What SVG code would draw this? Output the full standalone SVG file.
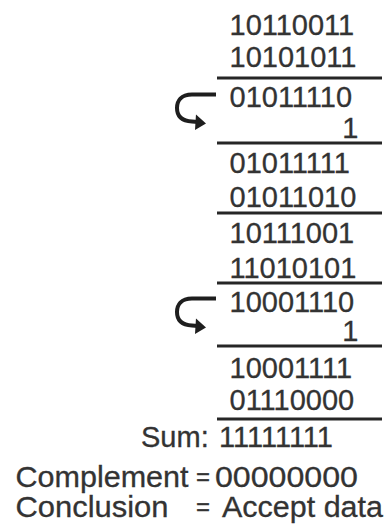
<svg xmlns="http://www.w3.org/2000/svg" xmlns:xlink="http://www.w3.org/1999/xlink" width="384" height="529" viewBox="0 0 384 529">
<style>
.t{font-family:"Liberation Sans",Arial,sans-serif;font-size:29px;fill:#333;stroke:#333;stroke-width:0.3}
.eq{font-size:24px}
.rule{stroke:#262626;stroke-width:3}
.arc{fill:none;stroke:#1e1e1e;stroke-width:4}
.head{fill:#1e1e1e}
</style>
<defs>
<g id="carry">
<path class="arc" d="M216,94.5 H192 C181,94.5 177,101 177,108 C177,116 182,121 192,121.5 L198,122"/>
<polygon class="head" points="206,123.5 196,114.5 195,130"/>
</g>
</defs>
<rect width="384" height="529" fill="#fff"/>
<g id="rows">
<g id="r1"><text class="t" x="229.5" y="35">10110011</text></g>
<g id="r2"><text class="t" x="229.5" y="67">10101011</text></g>
<g id="r3"><text class="t" x="229.5" y="107">01011110</text></g>
<g id="r4"><text class="t" x="229.5" y="138" dx="112.8">1</text></g>
<g id="r5"><text class="t" x="229.5" y="173">01011111</text></g>
<g id="r6"><text class="t" x="229.5" y="207">01011010</text></g>
<g id="r7"><text class="t" x="229.5" y="243">10111001</text></g>
<g id="r8"><text class="t" x="229.5" y="278">11010101</text></g>
<g id="r9"><text class="t" x="229.5" y="312">10001110</text></g>
<g id="r10"><text class="t" x="229.5" y="341" dx="112.8">1</text></g>
<g id="r11"><text class="t" x="229.5" y="378">10001111</text></g>
<g id="r12"><text class="t" x="229.5" y="410">01110000</text></g>
<g id="sum"><text class="t" x="141" y="447">Sum:</text><text class="t" x="219" y="447">11111111</text></g>
<g id="complement"><text class="t" x="15.5" y="487" textLength="173" lengthAdjust="spacingAndGlyphs">Complement</text><text class="t eq" x="196" y="485">=</text><text class="t" x="215" y="487" textLength="143" lengthAdjust="spacingAndGlyphs">00000000</text></g>
<g id="conclusion"><text class="t" x="15.5" y="517" textLength="153" lengthAdjust="spacingAndGlyphs">Conclusion</text><text class="t eq" x="196" y="515">=</text><text class="t" x="222" y="517" textLength="161" lengthAdjust="spacingAndGlyphs">Accept data</text></g>
</g>
<g id="rules">
<line class="rule" x1="217" y1="78" x2="382" y2="78"/>
<line class="rule" x1="217" y1="143" x2="382" y2="143"/>
<line class="rule" x1="217" y1="213" x2="382" y2="213"/>
<line class="rule" x1="217" y1="283" x2="382" y2="283"/>
<line class="rule" x1="217" y1="346" x2="382" y2="346"/>
<line class="rule" x1="217" y1="419" x2="382" y2="419"/>
</g>
<g id="connectors">
<use xlink:href="#carry"/>
<use xlink:href="#carry" y="204"/>
</g>
</svg>
